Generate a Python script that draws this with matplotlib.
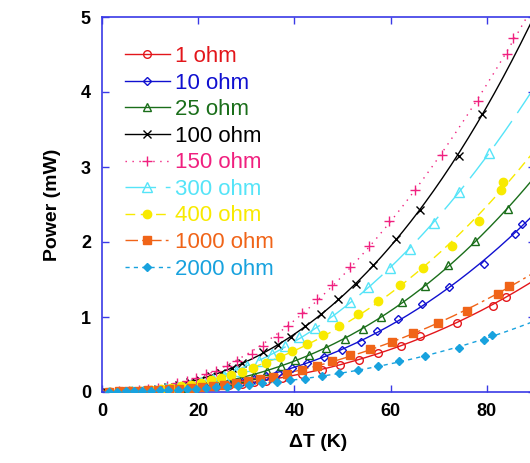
import numpy as np
import matplotlib
matplotlib.use("Agg")
import matplotlib.pyplot as plt

plt.rcParams["font.family"] = ["Liberation Sans", "DejaVu Sans"]

AXIS_BLUE = "#3a3ae6"

# series: (delta T in K, power in mW)
dt_1 = [1.5, 4, 6.5, 9, 11.5, 14, 16.5, 19, 21.5, 24, 26.5, 29, 31.5, 34, 37.5,
        41.5, 45.7, 49.5, 53.4, 57.4, 62.2, 66.2, 73.7, 81.2, 83.9]
p_1 = [0.003, 0.006, 0.01, 0.015, 0.022, 0.03, 0.04, 0.05, 0.062, 0.076, 0.09,
       0.11, 0.13, 0.15, 0.19, 0.24, 0.29, 0.36, 0.43, 0.52, 0.61, 0.75, 0.92,
       1.15, 1.27]

dt_10 = [1.5, 4, 6.5, 9, 11.5, 14, 16.5, 19, 21.5, 24, 26.5, 29, 31.5, 34, 36.5,
         39.5, 42.6, 46.1, 49.9, 53.9, 57.2, 61.6, 66.6, 72.2, 79.3, 85.8, 87.3]
p_10 = [0.003, 0.006, 0.01, 0.016, 0.023, 0.032, 0.043, 0.055, 0.07, 0.09, 0.11,
        0.14, 0.17, 0.21, 0.26, 0.32, 0.39, 0.47, 0.56, 0.67, 0.81, 0.97, 1.17,
        1.40, 1.71, 2.11, 2.24]

dt_25 = [1.5, 4, 6.5, 9, 11.5, 14, 16.5, 19, 21.5, 24, 26.5, 29, 31.5, 34.2,
         37.2, 40.1, 43.0, 46.6, 50.5, 54.3, 58.0, 62.4, 67.2, 72.0, 77.5, 84.3]
p_25 = [0.003, 0.006, 0.011, 0.018, 0.028, 0.04, 0.055, 0.073, 0.095, 0.12,
        0.15, 0.19, 0.23, 0.28, 0.35, 0.43, 0.49, 0.59, 0.71, 0.84, 1.00, 1.20,
        1.41, 1.69, 2.01, 2.44]

dt_100 = [1.0, 2.8, 5.0, 7.2, 9.4, 11.6, 13.8, 16.0, 18.2, 20.4, 22.6, 24.8, 27.0,
          29.2, 33.4, 36.5, 39.2, 42.2, 45.5, 49.1, 52.8, 56.4, 61.2, 66.2, 74.1, 78.9]
p_100 = [0.001, 0.004, 0.009, 0.018, 0.03, 0.046, 0.068, 0.095, 0.127, 0.165,
         0.21, 0.26, 0.32, 0.39, 0.53, 0.63, 0.73, 0.88, 1.04, 1.24, 1.44, 1.69,
         2.04, 2.43, 3.15, 3.71]

dt_150 = [1.6, 3.6, 5.6, 7.6, 9.6, 11.6, 13.6, 15.6, 17.6, 19.6, 21.6, 23.6, 25.9,
          28.0, 31.1, 33.4, 36.5, 38.6, 41.5, 44.7, 47.8, 51.6, 55.5, 59.7, 65.1,
          70.6, 78.1, 84.1, 85.4]
p_150 = [0.002, 0.007, 0.014, 0.025, 0.04, 0.06, 0.085, 0.115, 0.15, 0.19, 0.24,
         0.28, 0.35, 0.41, 0.51, 0.61, 0.73, 0.88, 1.05, 1.24, 1.43, 1.67, 1.95,
         2.28, 2.69, 3.16, 3.88, 4.51, 4.72]

dt_300 = [1.5, 3.8, 6.2, 8.6, 11.0, 13.4, 15.8, 18.2, 20.6, 23.0, 25.4, 27.8, 30.2,
          32.7, 35.3, 38.0, 40.9, 44.3, 47.8, 51.6, 55.3, 59.9, 64.1, 69.1, 74.1, 80.4]
p_300 = [0.002, 0.005, 0.011, 0.02, 0.033, 0.05, 0.072, 0.10, 0.13, 0.17, 0.22,
         0.28, 0.35, 0.42, 0.51, 0.61, 0.73, 0.85, 1.01, 1.20, 1.40, 1.65, 1.91,
         2.25, 2.67, 3.19]

dt_400 = [1.7, 3.8, 5.9, 8.0, 10.1, 12.2, 14.3, 16.4, 18.5, 20.6, 22.7, 24.8, 26.9,
          29.0, 31.3, 34.0, 37.0, 39.5, 42.6, 45.9, 49.3, 53.2, 57.4, 62.0, 66.8,
          72.7, 78.3, 82.9, 83.3]
p_400 = [0.003, 0.006, 0.011, 0.019, 0.029, 0.042, 0.058, 0.077, 0.10, 0.125,
         0.155, 0.19, 0.23, 0.27, 0.32, 0.39, 0.47, 0.55, 0.64, 0.76, 0.88, 1.04,
         1.21, 1.43, 1.65, 1.95, 2.28, 2.69, 2.80]

dt_1000 = [1.5, 3.5, 5.5, 7.5, 9.6, 11.7, 13.9, 16.1, 18.4, 20.7, 23.0, 25.4, 27.8,
           30.3, 32.8, 35.5, 38.4, 41.5, 44.7, 47.8, 51.6, 55.7, 60.3, 64.7, 69.9,
           75.8, 82.3, 84.6]
p_1000 = [0.004, 0.007, 0.011, 0.016, 0.022, 0.029, 0.037, 0.046, 0.057, 0.07,
          0.084, 0.10, 0.12, 0.15, 0.17, 0.20, 0.24, 0.29, 0.35, 0.41, 0.49, 0.57,
          0.67, 0.79, 0.92, 1.08, 1.31, 1.41]

dt_2000 = [1.5, 3.2, 5.0, 6.7, 8.4, 10.2, 12.0, 13.8, 15.7, 17.6, 19.6, 21.6, 23.7,
           25.9, 28.2, 30.6, 33.2, 36.3, 39.0, 42.2, 45.7, 49.3, 53.2, 57.4, 61.8,
           67.2, 74.1, 79.3, 81.0]
p_2000 = [0.003, 0.005, 0.008, 0.011, 0.014, 0.018, 0.022, 0.027, 0.032, 0.038,
          0.045, 0.053, 0.062, 0.072, 0.083, 0.097, 0.115, 0.13, 0.155, 0.175,
          0.21, 0.25, 0.29, 0.35, 0.41, 0.48, 0.59, 0.69, 0.76]

labels = ["1 ohm", "10 ohm", "25 ohm", "100 ohm", "150 ohm", "300 ohm",
          "400 ohm", "1000 ohm", "2000 ohm"]
xs = [dt_1, dt_10, dt_25, dt_100, dt_150, dt_300, dt_400, dt_1000, dt_2000]
ys = [p_1, p_10, p_25, p_100, p_150, p_300, p_400, p_1000, p_2000]

# style per series: color, marker, marker size, filled, linestyle
styles = [
    ("#e3161b", "o", 5.5, False, "-"),
    ("#1010d0", "D", 3.8, False, "-"),
    ("#1a6e1a", "^", 5.5, False, "-"),
    ("#000000", "x", 6, True, "-"),
    ("#f0207f", "+", 7, True, (0, (1, 4))),
    ("#55e4f8", "^", 6.5, False, (0, (22, 7))),
    ("#f8ea00", "o", 6, True, (0, (7, 4))),
    ("#f06418", "s", 6, True, (0, (9, 3, 2, 3))),
    ("#18a2de", "D", 4.2, True, (0, (3, 3))),
]

fig = plt.figure(figsize=(5.3, 4.63), dpi=100)
ax = fig.add_axes([102 / 530, 71 / 463, 433 / 530, 375 / 463])

xfit = np.linspace(0, 90, 300)
for x, y, lab, (col, mk, ms, filled, ls) in zip(xs, ys, labels, styles):
    coef = np.polyfit(x, y, 3)
    ax.plot(xfit, np.polyval(coef, xfit), color=col, lw=1, ls=ls, zorder=2)
    ax.plot(x, y, ls="none", marker=mk, ms=ms, color=col,
            mfc=col if filled else "none", mec=col, mew=1, zorder=3)
    ax.plot([], [], color=col, lw=1, ls=ls, marker=mk, ms=ms,
            mfc=col if filled else "none", mec=col, mew=1, label=lab)

ax.set_xlim(0, 90)
ax.set_ylim(0, 5)
ax.set_xticks([0, 20, 40, 60, 80])
ax.set_yticks([0, 1, 2, 3, 4, 5])
for s in ax.spines.values():
    s.set_color(AXIS_BLUE)
    s.set_linewidth(1.2)
ax.tick_params(direction="in", length=5, width=1, color=AXIS_BLUE,
               top=True, right=True, labelsize=13, pad=8)
for t in ax.get_xticklabels() + ax.get_yticklabels():
    t.set_fontweight("bold")

ax.set_xlabel("\u0394T (K)", fontsize=14, fontweight="bold", labelpad=10)
ax.set_ylabel("Power (mW)", fontsize=14, fontweight="bold", labelpad=14)

ax.legend(loc="upper left", bbox_to_anchor=(0.033, 0.946), frameon=False,
          fontsize=16, labelcolor="linecolor", handlelength=2.0,
          handletextpad=0.25, labelspacing=0.25, borderaxespad=0,
          numpoints=1)

fig.savefig("out.png", dpi=100)
